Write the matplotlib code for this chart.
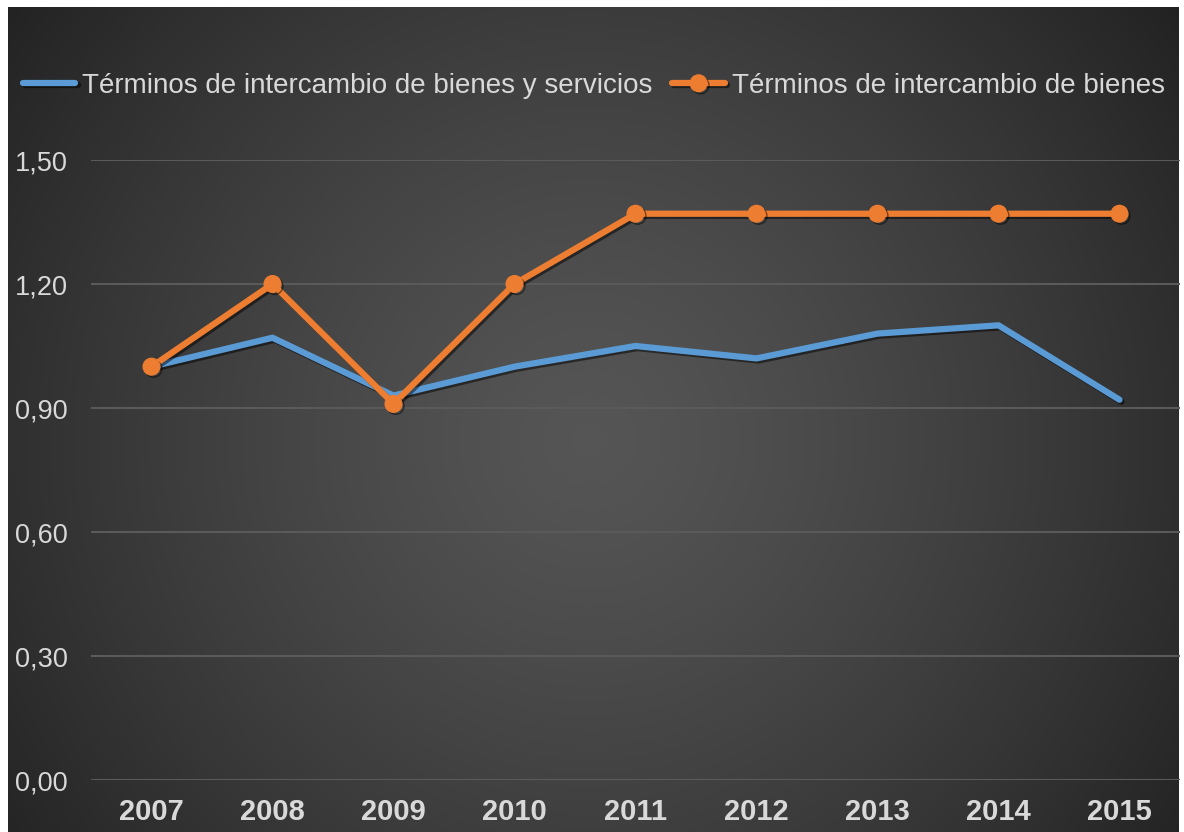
import numpy as np
import matplotlib
matplotlib.use("Agg")
import matplotlib.pyplot as plt
import matplotlib.patheffects as pe

plt.rcParams['font.family'] = ['Liberation Sans', 'DejaVu Sans']

# datos
years = ['2007', '2008', '2009', '2010', '2011', '2012', '2013', '2014', '2015']
bienes_servicios = [1.00, 1.07, 0.93, 1.00, 1.05, 1.02, 1.08, 1.10, 0.92]
bienes = [1.00, 1.20, 0.91, 1.20, 1.37, 1.37, 1.37, 1.37, 1.37]
yticks = [0.0, 0.3, 0.6, 0.9, 1.2, 1.5]
ytick_labels = ['0,00', '0,30', '0,60', '0,90', '1,20', '1,50']

W, H = 1184, 832
fig = plt.figure(figsize=(W / 100, H / 100), dpi=100)
fig.patch.set_facecolor('white')

# fondo con degradado radial
bg = fig.add_axes([8 / W, 0, (1179 - 8) / W, 1 - 7 / H], zorder=0)
xx, yy = np.meshgrid(np.linspace(8, 1179, 600), np.linspace(7, 832, 420))
r = np.hypot(xx - 590, yy - 440)
r = r / r.max()
v = 0.335 - 0.20 * r ** 1.3
img = np.dstack([v, v, v])
bg.imshow(img, aspect='auto', interpolation='bilinear')
bg.axis('off')

ax = fig.add_axes([91 / W, 1 - 780 / H, (1180 - 91) / W, (780 - 160) / H], zorder=1)
ax.set_facecolor('none')

x = np.arange(len(years))
shadow = [pe.SimpleLineShadow(offset=(1.5, -1.5), alpha=0.5, shadow_color='black'), pe.Normal()]

ax.plot(x, bienes_servicios, color='#5B9BD5', lw=4.5, solid_capstyle='round',
        solid_joinstyle='round', label='Términos de intercambio de bienes y servicios',
        path_effects=shadow, zorder=3)
ax.plot(x, bienes, color='#ED7D31', lw=4.5, marker='o', markersize=12,
        solid_capstyle='round', solid_joinstyle='round',
        label='Términos de intercambio de bienes', path_effects=shadow, zorder=4)

ax.set_xlim(-0.5, len(years) - 0.5)
ax.set_ylim(0, 1.5)
ax.set_yticks(yticks)
ax.set_yticklabels(ytick_labels)
ax.set_xticks(x)
ax.set_xticklabels(years, fontweight='bold')
ax.grid(axis='y', color='#5a5a5a', lw=1.5)
ax.set_axisbelow(True)
for s in ax.spines.values():
    s.set_visible(False)
ax.tick_params(axis='y', length=0, pad=17, labelsize=19.5, labelcolor='#d9d9d9')
ax.tick_params(axis='x', length=0, pad=13, labelsize=21, labelcolor='#d9d9d9')

leg = fig.legend(loc='center', bbox_to_anchor=(0.5015, 1 - 86 / H), ncol=2, frameon=False,
                 fontsize=20, handlelength=1.9, handletextpad=0.25, columnspacing=0.7,
                 labelcolor='#d9d9d9', numpoints=1)

fig.savefig('out.png', dpi=100, facecolor='white')
